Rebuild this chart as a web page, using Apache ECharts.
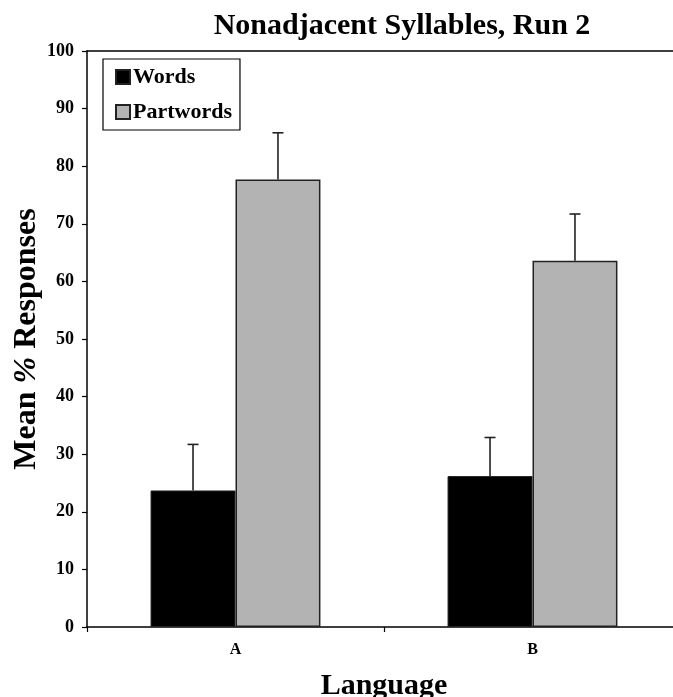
<!DOCTYPE html>
<html>
<head>
<meta charset="utf-8">
<script src="https://cdn.jsdelivr.net/npm/echarts@6/dist/echarts.min.js"></script>
<style>html,body{margin:0;padding:0;background:#fff;overflow:hidden}#c{width:673px;height:697px}</style>
</head>
<body>
<div id="c"></div>
<script>
var categories = ['A', 'B'];
var seriesNames = ['Words', 'Partwords'];
var wordsMean = [23.7, 26.2];
var partwordsMean = [77.7, 63.6];
var wordsErr = [8.0, 6.7];
var partwordsErr = [8.1, 8.1];
var yTicks = [0, 10, 20, 30, 40, 50, 60, 70, 80, 90, 100];

var FONT = '"Liberation Serif", "Times New Roman", serif';
var BAR_FRAC = 0.286;

function errSeries(means, errs, sign) {
  return {
    type: 'custom',
    z: 5,
    silent: true,
    data: categories.map(function (c, i) { return [i, means[i], means[i] + errs[i]]; }),
    renderItem: function (params, api) {
      var band = api.size([1, 0])[0];
      var off = sign * band * BAR_FRAC / 2;
      var p0 = api.coord([api.value(0), api.value(1)]);
      var p1 = api.coord([api.value(0), api.value(2)]);
      var x = p0[0] + off;
      var style = { stroke: '#222', lineWidth: 1.6 };
      return {
        type: 'group',
        children: [
          { type: 'line', shape: { x1: x, y1: p0[1], x2: x, y2: p1[1] }, style: style },
          { type: 'line', shape: { x1: x - 5.5, y1: p1[1], x2: x + 5.5, y2: p1[1] }, style: style }
        ]
      };
    }
  };
}

var el = document.getElementById('c');
var chart = echarts.init(el, null, { renderer: 'canvas' });
chart.setOption({
  animation: false,
  backgroundColor: '#fff',
  title: {
    text: 'Nonadjacent Syllables, Run 2',
    left: 397, top: 6, textAlign: 'center',
    textStyle: { fontFamily: FONT, fontWeight: 'bold', fontSize: 30, color: '#000' }
  },
  legend: {
    orient: 'vertical',
    left: 103, top: 59,
    padding: [7, 8, 7, 12],
    itemGap: 13,
    itemWidth: 14, itemHeight: 14,
    icon: 'rect',
    borderColor: '#000', borderWidth: 1.2,
    backgroundColor: '#fff',
    data: seriesNames,
    textStyle: { fontFamily: FONT, fontWeight: 'bold', fontSize: 22, color: '#000', padding: [0, 0, 0, -2] }
  },
  grid: {
    left: 87, top: 51, width: 594, height: 576,
    containLabel: false,
    outerBoundsMode: 'none'
  },
  xAxis: [{
    type: 'category',
    data: categories,
    name: 'Language',
    nameLocation: 'middle',
    nameGap: 44,
    nameMoveOverlap: false,
    nameTextStyle: { fontFamily: FONT, fontWeight: 'bold', fontSize: 30, color: '#000' },
    axisLine: { lineStyle: { color: '#000', width: 1.5 } },
    axisTick: { show: true, length: 5, lineStyle: { color: '#000', width: 1.2 } },
    axisLabel: { margin: 15, fontFamily: FONT, fontWeight: 'bold', fontSize: 16, color: '#000' }
  }, {
    type: 'category', position: 'top', data: categories,
    axisLine: { show: true, lineStyle: { color: '#000', width: 1.5 } },
    axisTick: { show: false }, axisLabel: { show: false }
  }],
  yAxis: {
    type: 'value',
    min: 0, max: 100, interval: 10,
    name: 'Mean {i|%} Responses',
    nameLocation: 'middle',
    nameGap: 44,
    nameMoveOverlap: false,
    nameTextStyle: {
      fontFamily: FONT, fontWeight: 'bold', fontSize: 32, color: '#000',
      rich: { i: { fontFamily: FONT, fontWeight: 'bold', fontStyle: 'italic', fontSize: 32, color: '#000' } }
    },
    axisLine: { show: true, lineStyle: { color: '#000', width: 1.5 } },
    axisTick: { show: true, length: 5, lineStyle: { color: '#000', width: 1.2 } },
    splitLine: { show: false },
    axisLabel: {
      margin: 13, fontFamily: FONT, fontWeight: 'bold', fontSize: 18, color: '#000',
      formatter: function (v) { return yTicks.indexOf(v) >= 0 ? String(v) : ''; }
    }
  },
  series: [
    {
      name: seriesNames[0], type: 'bar', data: wordsMean,
      barWidth: (BAR_FRAC * 100) + '%', barGap: '0%',
      itemStyle: { color: '#000', borderColor: '#222', borderWidth: 1 }
    },
    {
      name: seriesNames[1], type: 'bar', data: partwordsMean,
      barWidth: (BAR_FRAC * 100) + '%', barGap: '0%',
      itemStyle: { color: '#b3b3b3', borderColor: '#222', borderWidth: 1.5 }
    },
    errSeries(wordsMean, wordsErr, -1),
    errSeries(partwordsMean, partwordsErr, 1)
  ]
});
</script>
</body>
</html>
